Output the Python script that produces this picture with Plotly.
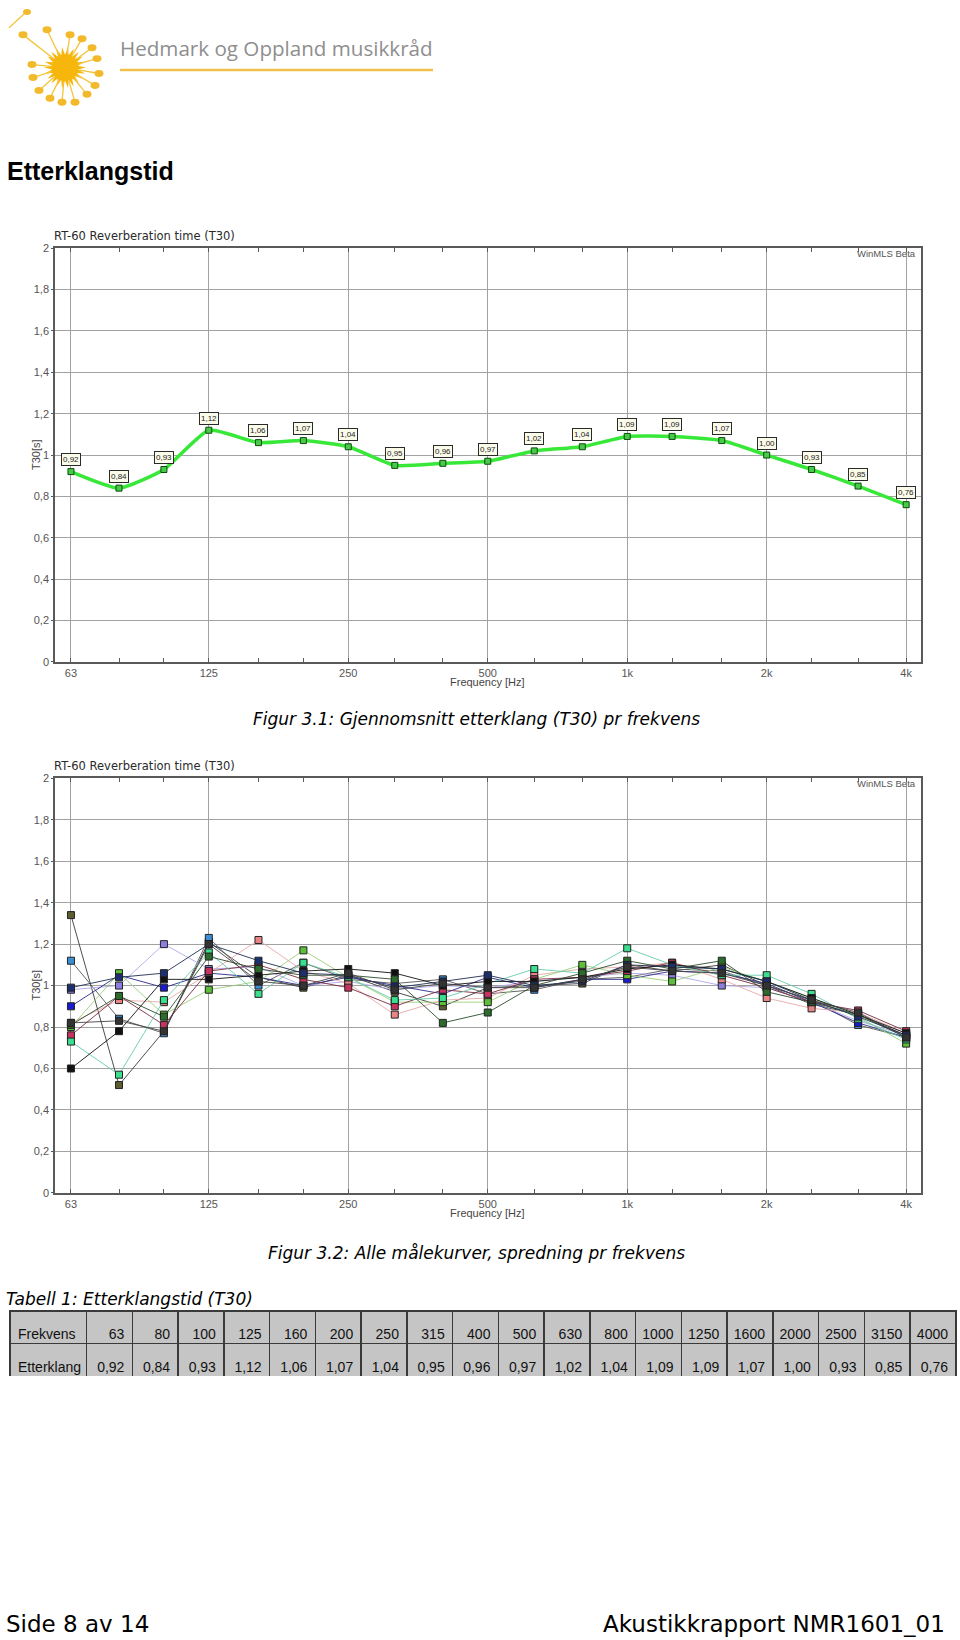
import math
import plotly.graph_objects as go

# ---------------- data ----------------
freqs = [63, 80, 100, 125, 160, 200, 250, 315, 400, 500, 630, 800, 1000, 1250, 1600, 2000, 2500, 3150, 4000]
freq_labels = ["63", "80", "100", "125", "160", "200", "250", "315", "400", "500", "630", "800",
               "1000", "1250", "1600", "2000", "2500", "3150", "4000"]
avg_t30 = [0.92, 0.84, 0.93, 1.12, 1.06, 1.07, 1.04, 0.95, 0.96, 0.97, 1.02, 1.04, 1.09, 1.09, 1.07, 1.00, 0.93, 0.85, 0.76]

octave_ticks = [63, 125, 250, 500, 1000, 2000, 4000]
octave_labels = ["63", "125", "250", "500", "1k", "2k", "4k"]
y_ticks = [0, 0.2, 0.4, 0.6, 0.8, 1.0, 1.2, 1.4, 1.6, 1.8, 2.0]
y_labels = ["0", "0,2", "0,4", "0,6", "0,8", "1", "1,2", "1,4", "1,6", "1,8", "2"]

# individual measurement curves (Figur 3.2)
mp01 = [1.34, 0.52, 0.78, 1.21, 1.04, 0.99, 1.05, 0.97, 0.90, 0.99, 1.00, 1.01, 1.10, 1.07, 1.10, 1.00, 0.91, 0.86, 0.76]
mp02 = [1.12, 0.84, 0.77, 1.23, 1.00, 1.11, 1.03, 1.01, 1.03, 0.96, 0.98, 1.03, 1.04, 1.08, 1.07, 1.00, 0.93, 0.81, 0.75]
mp03 = [0.98, 1.00, 1.20, 1.08, 1.09, 1.00, 1.02, 0.98, 1.00, 0.99, 1.02, 1.04, 1.06, 1.05, 1.00, 0.99, 0.92, 0.83, 0.76]
mp04 = [0.90, 1.05, 0.99, 1.06, 1.04, 1.00, 1.04, 1.00, 0.96, 1.04, 0.99, 1.03, 1.03, 1.07, 1.06, 1.01, 0.92, 0.82, 0.75]
mp05 = [0.82, 0.93, 0.92, 1.06, 1.22, 1.07, 1.01, 0.86, 0.93, 0.94, 1.05, 1.08, 1.09, 1.11, 1.03, 0.94, 0.89, 0.87, 0.77]
mp06 = [0.80, 1.06, 0.86, 0.98, 1.02, 1.17, 1.04, 0.92, 0.92, 0.92, 1.03, 1.10, 1.05, 1.02, 1.09, 1.02, 0.94, 0.85, 0.72]
mp07 = [0.76, 0.95, 0.81, 1.07, 1.10, 1.03, 0.99, 0.90, 0.98, 0.96, 1.03, 1.04, 1.07, 1.11, 1.05, 0.99, 0.92, 0.88, 0.78]
mp08 = [0.73, 0.57, 0.93, 1.16, 0.96, 1.11, 1.04, 0.93, 0.94, 1.01, 1.08, 1.06, 1.18, 1.10, 1.05, 1.05, 0.96, 0.84, 0.74]
mp09 = [0.60, 0.78, 1.03, 1.03, 1.05, 1.07, 1.08, 1.06, 1.00, 1.02, 1.02, 1.04, 1.08, 1.10, 1.08, 1.02, 0.94, 0.86, 0.77]
mp10 = [0.81, 0.95, 0.85, 1.14, 1.08, 1.05, 1.05, 1.03, 0.82, 0.87, 1.00, 1.06, 1.12, 1.08, 1.12, 0.97, 0.92, 0.86, 0.75]
mp11 = [0.99, 1.04, 1.06, 1.20, 1.12, 1.06, 1.05, 0.99, 1.02, 1.05, 1.00, 1.02, 1.10, 1.09, 1.08, 1.02, 0.93, 0.85, 0.76]
mp12 = [0.82, 0.83, 0.78, 1.20, 1.02, 1.00, 1.06, 0.98, 1.01, 0.99, 0.99, 1.03, 1.09, 1.07, 1.06, 1.00, 0.93, 0.87, 0.75]

curves = [mp01, mp02, mp03, mp04, mp05, mp06, mp07, mp08, mp09, mp10, mp11, mp12]
curve_colors = ["#5c5c2e", "#3c8fd6", "#8b80de", "#1a1ad0", "#ea8585", "#5cbf3a",
                "#c8325e", "#3ade8e", "#111111", "#2b6b2b", "#1e2f70", "#333333"]
line_colors = ["#3a3a3a", "#555555", "#b0a8e8", "#2a2a8a", "#e8a8a8", "#9ad07a",
               "#7a2a40", "#66ccaa", "#111111", "#2b4b2b", "#1e2f50", "#444444"]

# ---------------- helpers ----------------
W, H = 960, 1640


def px(x):
    return x / W


def py(y):
    return 1 - y / H


def fmt(v):
    return f"{v:.2f}".replace(".", ",")


TICKFONT = dict(family="Liberation Sans", size=11, color="#555555")
GRID = "#a2a2a2"
FRAME = "#5a5a5a"
XRANGE = [math.log10(58.2), math.log10(4300)]

fig = go.Figure()

# ---------------- chart 1 ----------------
fig.add_trace(go.Scatter(
    x=freqs, y=avg_t30, xaxis="x", yaxis="y", mode="lines+markers",
    line=dict(color="#38e838", width=3.5, shape="spline", smoothing=0.5),
    marker=dict(symbol="square", size=6, color="#49c949", line=dict(color="#0b4d0b", width=1)),
    showlegend=False, hoverinfo="skip"))

# ---------------- chart 2 ----------------
for vals, col, lc in zip(curves, curve_colors, line_colors):
    fig.add_trace(go.Scatter(
        x=freqs, y=vals, xaxis="x2", yaxis="y2", mode="lines+markers",
        line=dict(color=lc, width=0.9),
        marker=dict(symbol="square", size=7, color=col, line=dict(color="#222222", width=1)),
        showlegend=False, hoverinfo="skip"))

# ---------------- table ----------------
TAB_X = [px(10), px(956.7)]
TAB_TOP, TAB_BOT = 1314.5, 1380
ROW_H = (TAB_BOT - TAB_TOP) / 2
TXT_SHIFT = 9.5
col_w = [76.7] + [45.8] * len(freqs)
aligns = ["left"] + ["right"] * len(freqs)
TFONT = dict(family="Liberation Sans", size=14, color="#111111")
# grid + fill
fig.add_trace(go.Table(
    domain=dict(x=TAB_X, y=[py(TAB_BOT), py(TAB_TOP)]),
    columnwidth=col_w,
    header=dict(values=[""] * (len(freqs) + 1), height=ROW_H,
                fill_color="#c5c5c5", line=dict(color="#3a3a3a", width=1.5)),
    cells=dict(values=[[""]] * (len(freqs) + 1), height=ROW_H,
               fill_color="#c5c5c5", line=dict(color="#3a3a3a", width=1.5))))
# text layer
fig.add_trace(go.Table(
    domain=dict(x=TAB_X, y=[py(TAB_BOT + TXT_SHIFT), py(TAB_TOP + TXT_SHIFT)]),
    columnwidth=col_w,
    header=dict(values=["Frekvens"] + freq_labels, height=ROW_H,
                fill_color="rgba(0,0,0,0)", line=dict(width=0), align=aligns, font=TFONT),
    cells=dict(values=[["Etterklang"]] + [[fmt(v)] for v in avg_t30], height=ROW_H,
               fill_color="rgba(0,0,0,0)", line=dict(width=0), align=aligns, font=TFONT)))


def xaxis_cfg(anchor):
    return dict(domain=[px(55), px(920.7)], anchor=anchor, type="log", range=XRANGE,
                tickvals=octave_ticks, ticktext=octave_labels, tickfont=TICKFONT,
                showgrid=True, gridcolor=GRID, gridwidth=1,
                showline=True, linecolor=FRAME, linewidth=1.5, mirror="ticks",
                ticks="", zeroline=False, fixedrange=True,
                minor=dict(tickvals=freqs, ticks="inside", ticklen=4, tickcolor=FRAME,
                           tickwidth=1, showgrid=False))


def yaxis_cfg(anchor, top, bottom):
    return dict(domain=[py(bottom), py(top)], anchor=anchor, range=[0, 2],
                tickvals=y_ticks, ticktext=y_labels, tickfont=TICKFONT,
                showgrid=True, gridcolor=GRID, gridwidth=1,
                showline=True, linecolor=FRAME, linewidth=1.5, mirror=True,
                ticks="outside", ticklen=2, tickcolor=FRAME, zeroline=False, fixedrange=True)


fig.update_layout(
    width=W, height=H, margin=dict(l=0, r=0, t=0, b=0),
    paper_bgcolor="white", plot_bgcolor="white", showlegend=False,
    xaxis=xaxis_cfg("y"), yaxis=yaxis_cfg("x", 244, 660.7),
    xaxis2=xaxis_cfg("y2"), yaxis2=yaxis_cfg("x2", 778, 1195.6),
)

ann = []
# value labels on chart 1
for f, v in zip(freqs, avg_t30):
    ann.append(dict(x=math.log10(f), y=v, xref="x", yref="y", text=fmt(v), showarrow=False,
                    yshift=12, font=dict(family="Liberation Sans", size=8, color="#222222"),
                    bgcolor="#fbfbea", bordercolor="#2a2a2a", borderwidth=1, borderpad=1))

for top, bottom in [(244, 660.7), (778, 1195.6)]:
    ann.append(dict(x=px(52), y=py(top - 12), xref="paper", yref="paper", xanchor="left",
                    yanchor="middle", showarrow=False, text="RT-60 Reverberation time (T30)",
                    font=dict(family="DejaVu Sans", size=11.5, color="#2a2a2a")))
    ann.append(dict(x=px(918), y=py(top + 5), xref="paper", yref="paper", xanchor="right",
                    yanchor="middle", showarrow=False, text="WinMLS Beta",
                    font=dict(family="Liberation Sans", size=9.5, color="#555555")))
    ann.append(dict(x=px(36), y=py((top + bottom) / 2), xref="paper", yref="paper",
                    xanchor="center", yanchor="middle", showarrow=False, text="T30[s]",
                    textangle=-90, font=dict(family="Liberation Sans", size=11, color="#444444")))
    ann.append(dict(x=px(487), y=py(bottom + 20), xref="paper", yref="paper",
                    xanchor="center", yanchor="middle", showarrow=False, text="Frequency [Hz]",
                    font=dict(family="Liberation Sans", size=11, color="#444444")))

# page texts
ann.append(dict(x=px(5), y=py(166), xref="paper", yref="paper", xanchor="left", yanchor="middle",
                showarrow=False, text="<b>Etterklangstid</b>",
                font=dict(family="Liberation Sans", size=25, color="#000000")))
ann.append(dict(x=px(476), y=py(718), xref="paper", yref="paper", xanchor="center", yanchor="middle",
                showarrow=False, text="<i>Figur 3.1: Gjennomsnitt etterklang (T30) pr frekvens</i>",
                font=dict(family="DejaVu Sans", size=17, color="#000000")))
ann.append(dict(x=px(476), y=py(1256), xref="paper", yref="paper", xanchor="center", yanchor="middle",
                showarrow=False, text="<i>Figur 3.2: Alle målekurver, spredning pr frekvens</i>",
                font=dict(family="DejaVu Sans", size=17, color="#000000")))
ann.append(dict(x=px(4), y=py(1303), xref="paper", yref="paper", xanchor="left", yanchor="middle",
                showarrow=False, text="<i>Tabell 1: Etterklangstid (T30)</i>",
                font=dict(family="DejaVu Sans", size=17, color="#000000")))
ann.append(dict(x=px(4), y=py(1630), xref="paper", yref="paper", xanchor="left", yanchor="middle",
                showarrow=False, text="Side 8 av 14",
                font=dict(family="DejaVu Sans", size=23, color="#000000")))
ann.append(dict(x=px(947), y=py(1630), xref="paper", yref="paper", xanchor="right", yanchor="middle",
                showarrow=False, text="Akustikkrapport NMR1601_01",
                font=dict(family="DejaVu Sans", size=23, color="#000000")))
# logo text
ann.append(dict(x=px(118), y=py(42), xref="paper", yref="paper", xanchor="left", yanchor="middle",
                showarrow=False, text="Hedmark og Oppland musikkråd",
                font=dict(family="Open Sans", size=20.6, color="#8e8e8e")))

fig.update_layout(annotations=ann)

# ---------------- logo shapes (decoration) ----------------
shapes = []
cx, cy = 65, 62
pts = []
n_spikes = 22
for k in range(2 * n_spikes):
    r = 21 if k % 2 == 0 else 13
    a = math.pi * k / n_spikes
    pts.append((cx + r * math.cos(a), cy + r * math.sin(a)))
path = "M " + " L ".join(f"{px(x):.5f},{py(y):.5f}" for x, y in pts) + " Z"
shapes.append(dict(type="path", path=path, xref="paper", yref="paper",
                   fillcolor="#f6b60c", line=dict(width=0)))
shapes.append(dict(type="circle", xref="paper", yref="paper",
                   x0=px(cx - 13), x1=px(cx + 13), y0=py(cy + 13), y1=py(cy - 13),
                   fillcolor="#f6b60c", line=dict(width=0)))
logo_notes = [(-42, -33), (-18, -38), (5, -33), (17, -29), (27, -20), (32, -9), (34, 6),
              (30, 18), (22, 27), (10, 35), (-3, 35), (-15, 31), (-26, 23), (-32, 10), (-33, -3)]
for dx, dy in logo_notes:
    d = math.hypot(dx, dy)
    ux, uy = dx / d, dy / d
    shapes.append(dict(type="line", xref="paper", yref="paper",
                       x0=px(cx + ux * 14), y0=py(cy + uy * 14),
                       x1=px(cx + dx - ux * 3), y1=py(cy + dy - uy * 3),
                       line=dict(color="#f3c53c", width=1.3)))
    hx, hy = cx + dx, cy + dy
    shapes.append(dict(type="circle", xref="paper", yref="paper",
                       x0=px(hx - 4.5), x1=px(hx + 4.5), y0=py(hy + 3.5), y1=py(hy - 3.5),
                       fillcolor="#f2b92a", line=dict(width=0)))
shapes.append(dict(type="line", xref="paper", yref="paper", x0=px(9), y0=py(22), x1=px(24), y1=py(8),
                   line=dict(color="#f3c53c", width=1.3)))
shapes.append(dict(type="circle", xref="paper", yref="paper", x0=px(23), x1=px(31), y0=py(9), y1=py(3),
                   fillcolor="#f2b92a", line=dict(width=0)))
shapes.append(dict(type="line", xref="paper", yref="paper", x0=px(120), x1=px(433), y0=py(64.5), y1=py(64.5),
                   line=dict(color="#f0c24a", width=2.5)))
fig.update_layout(shapes=shapes)

fig.write_html("out.html", config={"displayModeBar": False},
               post_script="document.body.style.margin='0';document.body.style.padding='0';")
